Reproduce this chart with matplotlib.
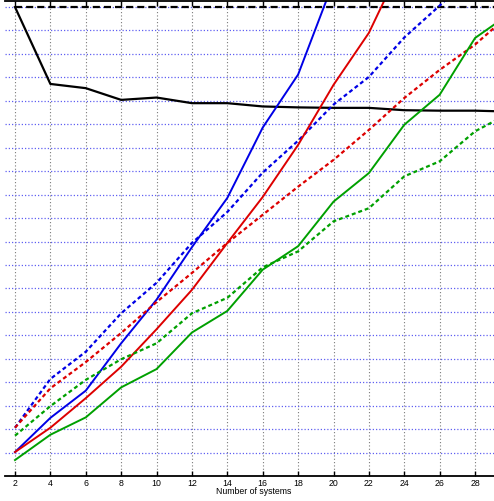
import matplotlib
matplotlib.use("Agg")
import matplotlib.pyplot as plt
import numpy as np

n_systems = [2, 4, 6, 8, 10, 12, 14, 16, 18, 20, 22, 24, 26, 28, 30]

blue_solid = [0.051, 0.124, 0.182, 0.283, 0.376, 0.488, 0.593, 0.743, 0.856, 1.054]
red_solid = [0.051, 0.103, 0.166, 0.233, 0.313, 0.397, 0.497, 0.595, 0.706, 0.834, 0.945, 1.103]
blue_dotted = [0.103, 0.207, 0.265, 0.347, 0.412, 0.497, 0.563, 0.647, 0.715, 0.792,
               0.851, 0.935, 1.003, 1.075]
red_dotted = [0.103, 0.187, 0.243, 0.305, 0.371, 0.433, 0.497, 0.557, 0.617, 0.674,
              0.738, 0.806, 0.866, 0.920, 0.986]
green_solid = [0.034, 0.088, 0.125, 0.189, 0.228, 0.306, 0.352, 0.440, 0.490, 0.585,
               0.646, 0.749, 0.813, 0.934, 0.987]
green_dotted = [0.086, 0.149, 0.205, 0.249, 0.283, 0.347, 0.380, 0.445, 0.479, 0.543,
                0.571, 0.639, 0.671, 0.735, 0.775]
black_solid = [1.000, 0.836, 0.827, 0.802, 0.807, 0.795, 0.795, 0.788, 0.786, 0.785,
               0.785, 0.780, 0.779, 0.779, 0.777]
black_dashed = [1.0] * 15

xticks = [2, 4, 6, 8, 10, 12, 14, 16, 18, 20, 22, 24, 26, 28]
xlabel = "Number of systems"

W, H = 494, 501
fig = plt.figure(figsize=(W / 100, H / 100), dpi=100)
ax = fig.add_axes([5 / W, (H - 476) / H, 489 / W, (476 - 0.7) / H])
ax.set_xlim(1.435, 29.07)
ax.set_ylim(0, 1.0135)

font = ["Liberation Sans", "DejaVu Sans"]

# grid: grey dotted verticals, blue dotted horizontals
ax.set_xticks(xticks)
ax.set_yticks(np.arange(0.05, 1.001, 0.05))
ax.grid(axis="x", color="#7a7a7a", linestyle=(0, (1, 2)), linewidth=0.8)
ax.grid(axis="y", color="#6060f2", linestyle=(0, (1, 1.6)), linewidth=0.9)
ax.set_axisbelow(True)

blue, red, green = "#0000e6", "#dd0000", "#00a000"
dot = (0, (1.8, 1.3))
lw = 1.4

ax.plot(n_systems, black_dashed, color="black", lw=1.6, ls=(0, (3.2, 1.8)))
ax.plot(n_systems, black_solid, color="black", lw=1.6)
ax.plot(n_systems[:len(blue_solid)], blue_solid, color=blue, lw=lw)
ax.plot(n_systems[:len(blue_dotted)], blue_dotted, color=blue, lw=lw + 0.2, ls=dot)
ax.plot(n_systems[:len(red_solid)], red_solid, color=red, lw=lw)
ax.plot(n_systems, red_dotted, color=red, lw=lw + 0.2, ls=dot)
ax.plot(n_systems, green_solid, color=green, lw=lw)
ax.plot(n_systems, green_dotted, color=green, lw=lw + 0.2, ls=dot)

for side in ("left", "right"):
    ax.spines[side].set_visible(False)
for side in ("top", "bottom"):
    ax.spines[side].set_linewidth(1.3)

ax.tick_params(axis="x", direction="in", top=True, length=3.3, width=1.0,
               pad=2.5, labelsize=6.3)
ax.tick_params(axis="y", left=False, labelleft=False)
for lab in ax.get_xticklabels():
    lab.set_family(font)

ax.text((254 - 5) / 489, -(491.5 - 476) / (476 - 0.7), xlabel, transform=ax.transAxes,
        ha="center", va="center", fontsize=6.3, family=font)

fig.savefig("out.png", dpi=100)
